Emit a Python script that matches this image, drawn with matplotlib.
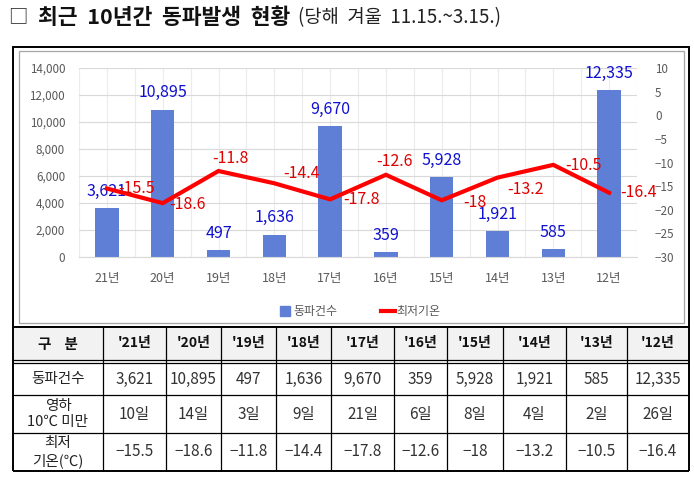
import matplotlib
matplotlib.use('Agg')
import matplotlib.pyplot as plt
from matplotlib.lines import Line2D
from matplotlib.ticker import FuncFormatter, MultipleLocator

plt.rcParams['font.family'] = ['Noto Sans CJK KR', 'DejaVu Sans']

# data
years = ['21년', '20년', '19년', '18년', '17년', '16년', '15년', '14년', '13년', '12년']
table_years = ["'21년", "'20년", "'19년", "'18년", "'17년", "'16년", "'15년", "'14년", "'13년", "'12년"]
freeze_cases = [3621, 10895, 497, 1636, 9670, 359, 5928, 1921, 585, 12335]
cold_days = [10, 14, 3, 9, 21, 6, 8, 4, 2, 26]
min_temp = [-15.5, -18.6, -11.8, -14.4, -17.8, -12.6, -18, -13.2, -10.5, -16.4]

# label offsets for the temperature labels (pixels, right / up)
temp_label_offsets = [(30, 0), (25, -1), (12, 13), (27, 10), (31, 0),
                      (9, 13), (33, -2), (28, -12), (30, -1), (29, 0)]

W, H = 694, 479
BAR_COLOR = '#5f7fd6'
LINE_COLOR = '#ff0000'
GRID = '#d9d9d9'
TICK = '#595959'

fig = plt.figure(figsize=(W / 100, H / 100), dpi=100)

# background axes in pixel coordinates for frame, title and table
bg = fig.add_axes([0, 0, 1, 1])
bg.set_xlim(0, W)
bg.set_ylim(H, 0)
bg.axis('off')

bg.text(8, 17, '□', fontsize=14, va='center', ha='left', color='#222')
bg.text(38, 17, '최근  10년간  동파발생  현황', fontsize=15.5, fontweight='bold',
        va='center', ha='left', color='#111')
bg.text(298, 18, '(당해  겨울  11.15.~3.15.)', fontsize=13.5, va='center',
        ha='left', color='#222')

# chart frame (double line)
bg.add_patch(plt.Rectangle((13, 47), 676, 280, fill=False, ec='black', lw=1.4))
bg.add_patch(plt.Rectangle((19, 51), 665, 272, fill=False, ec='#a6a6a6', lw=0.9))

# chart
ax = fig.add_axes([79 / W, 1 - 257 / H, 558 / W, 189 / H])
x = list(range(len(years)))
ax.bar(x, freeze_cases, width=0.42, color=BAR_COLOR, zorder=2)
ax.set_xlim(-0.5, len(years) - 0.5)
ax.set_ylim(0, 14000)
ax.yaxis.set_major_locator(MultipleLocator(2000))
ax.yaxis.set_major_formatter(FuncFormatter(lambda v, p: f'{int(v):,}'))
ax.set_xticks(x)
ax.set_xticklabels(years)
ax.set_xticks([i - 0.5 for i in range(len(years) + 1)], minor=True)
ax.set_axisbelow(True)
ax.grid(axis='y', color=GRID, lw=0.8)
ax.grid(axis='x', which='both', color='#ececec', lw=0.8)
for s in ['top', 'right', 'left']:
    ax.spines[s].set_visible(False)
ax.spines['bottom'].set_color(GRID)
ax.tick_params(axis='both', which='both', length=0, colors=TICK, labelsize=8.4)
ax.tick_params(axis='x', pad=11, labelsize=9)
ax.tick_params(axis='y', pad=10)

for xi, v in zip(x, freeze_cases):
    ax.annotate(f'{v:,}', (xi, v), xytext=(0, 17), textcoords='offset pixels',
                ha='center', va='center', fontsize=11.5, color='#1010d0')

ax2 = ax.twinx()
ax2.plot(x, min_temp, color=LINE_COLOR, lw=3, solid_joinstyle='miter', zorder=3)
ax2.set_ylim(-30, 10)
ax2.yaxis.set_major_locator(MultipleLocator(5))
for s in ax2.spines.values():
    s.set_visible(False)
ax2.tick_params(axis='y', length=0, colors=TICK, labelsize=8.4, pad=13)

for xi, t, (dx, dy) in zip(x, min_temp, temp_label_offsets):
    ax2.annotate(f'{t:g}', (xi, t), xytext=(dx, dy), textcoords='offset pixels',
                 ha='center', va='center', fontsize=11.5, color='#e00000')

handles = [Line2D([], [], color=BAR_COLOR, marker='s', ls='none', markersize=6.5),
           Line2D([], [], color=LINE_COLOR, lw=3)]
ax.legend(handles, ['동파건수', '최저기온'], ncol=2, frameon=False,
          loc='center', bbox_to_anchor=(359 / W, 1 - 312 / H),
          bbox_transform=fig.transFigure, fontsize=8.6, labelcolor=TICK,
          handlelength=1.2, handletextpad=0.1, columnspacing=3.6)

# table
col_edges = [13, 103, 166, 221, 276, 331, 394, 447, 503, 566, 627, 689]
row_edges = [327, 360, 363, 395, 433, 471]

bg.add_patch(plt.Rectangle((13, 327), 676, 33, fc='#f2f2f2', ec='none'))

for y in row_edges:
    lw = 1.4 if y in (327, 471) else 0.9
    bg.plot([13, 689], [y, y], color='black', lw=lw, solid_capstyle='butt')
for i, cx in enumerate(col_edges):
    lw = 1.4 if i in (0, len(col_edges) - 1) else 0.9
    bg.plot([cx, cx], [327, 471], color='black', lw=lw, solid_capstyle='butt')

centers = [(col_edges[i] + col_edges[i + 1]) / 2 for i in range(len(col_edges) - 1)]
row_mid = [343.5, 379, 414, 452]

bg.text(centers[0], row_mid[0], '구    분', ha='center', va='center',
        fontsize=10.5, fontweight='bold', color='#111')
for cx, lab in zip(centers[1:], table_years):
    bg.text(cx, row_mid[0], lab, ha='center', va='center', fontsize=10,
            fontweight='bold', color='#111')

first_col = ['동파건수', '영하\n10℃ 미만', '최저\n기온(℃)']
for ry, lab in zip(row_mid[1:], first_col):
    bg.text(centers[0], ry, lab, ha='center', va='center', fontsize=10.5,
            color='#222', linespacing=1.25)

row_values = [
    [f'{v:,}' for v in freeze_cases],
    [f'{d}일' for d in cold_days],
    [f'{t:g}'.replace('-', '−') for t in min_temp],
]
for ry, vals in zip(row_mid[1:], row_values):
    for cx, v in zip(centers[1:], vals):
        bg.text(cx, ry, v, ha='center', va='center', fontsize=11, color='#333')

fig.savefig('out.png', dpi=100)
